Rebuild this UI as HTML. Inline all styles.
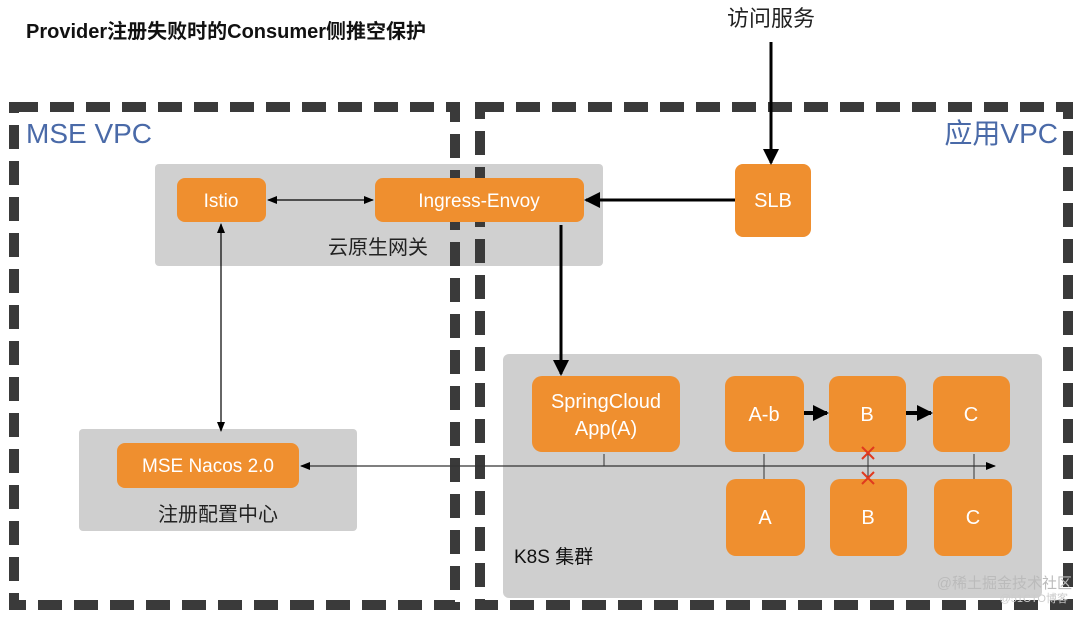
<!DOCTYPE html>
<html><head><meta charset="utf-8"><style>
body{margin:0;width:1080px;height:612px;background:#fff;overflow:hidden}
svg text{font-family:"Liberation Sans","Noto Sans CJK SC",sans-serif}
</style></head><body>
<svg width="1080" height="612" viewBox="0 0 1080 612">
<defs>
<marker id="ahb" markerWidth="16" markerHeight="16" refX="14" refY="8" orient="auto" markerUnits="userSpaceOnUse"><path d="M0,0L16,8L0,16z" fill="#000"/></marker>
<marker id="ahs" markerWidth="10" markerHeight="10" refX="9" refY="5" orient="auto-start-reverse" markerUnits="userSpaceOnUse"><path d="M0,1L10,5L0,9z" fill="#000"/></marker>
</defs>
<text x="26" y="38" font-size="20" font-weight="bold" fill="#111">Provider注册失败时的Consumer侧推空保护</text>
<text x="771" y="26" font-size="22" fill="#222" text-anchor="middle">访问服务</text>
<!-- gateway -->
<rect x="155" y="164" width="448" height="102" rx="4" fill="#d0d0d0"/>
<!-- dashed containers -->
<rect x="14" y="107" width="441" height="498" fill="none" stroke="#3a3a3a" stroke-width="10" stroke-dasharray="24 12"/>
<rect x="480" y="107" width="588" height="498" fill="none" stroke="#3a3a3a" stroke-width="10" stroke-dasharray="24 12"/>
<text x="26" y="143" font-size="28" fill="#4a6aa8">MSE VPC</text>
<text x="1058" y="143" font-size="28" fill="#4a6aa8" text-anchor="end">应用VPC</text>
<rect x="177" y="178" width="89" height="44" rx="8" fill="#ef8f2f"/>
<text x="221" y="207" font-size="19" fill="#fff" text-anchor="middle">Istio</text>
<rect x="375" y="178" width="209" height="44" rx="8" fill="#ef8f2f"/>
<text x="479" y="207" font-size="19" fill="#fff" text-anchor="middle">Ingress-Envoy</text>
<text x="378" y="254" font-size="20" fill="#222" text-anchor="middle">云原生网关</text>
<!-- SLB -->
<rect x="735" y="164" width="76" height="73" rx="8" fill="#ef8f2f"/>
<text x="773" y="207" font-size="20" fill="#fff" text-anchor="middle">SLB</text>
<!-- nacos -->
<rect x="79" y="429" width="278" height="102" rx="4" fill="#cfcfcf"/>
<rect x="117" y="443" width="182" height="45" rx="8" fill="#ef8f2f"/>
<text x="208" y="472" font-size="19" fill="#fff" text-anchor="middle">MSE Nacos 2.0</text>
<text x="218" y="521" font-size="20" fill="#222" text-anchor="middle">注册配置中心</text>
<!-- k8s -->
<rect x="503" y="354" width="539" height="244" rx="6" fill="#cfcfcf"/>
<text x="514" y="563" font-size="19" fill="#111">K8S 集群</text>
<rect x="532" y="376" width="148" height="76" rx="10" fill="#ef8f2f"/>
<text x="606" y="408" font-size="20" fill="#fff" text-anchor="middle">SpringCloud</text>
<text x="606" y="435" font-size="20" fill="#fff" text-anchor="middle">App(A)</text>
<rect x="725" y="376" width="79" height="76" rx="10" fill="#ef8f2f"/>
<text x="764" y="421" font-size="20" fill="#fff" text-anchor="middle">A-b</text>
<rect x="829" y="376" width="77" height="76" rx="10" fill="#ef8f2f"/>
<text x="867" y="421" font-size="20" fill="#fff" text-anchor="middle">B</text>
<rect x="933" y="376" width="77" height="76" rx="10" fill="#ef8f2f"/>
<text x="971" y="421" font-size="20" fill="#fff" text-anchor="middle">C</text>
<rect x="726" y="479" width="79" height="77" rx="10" fill="#ef8f2f"/>
<text x="765" y="524" font-size="20" fill="#fff" text-anchor="middle">A</text>
<rect x="830" y="479" width="77" height="77" rx="10" fill="#ef8f2f"/>
<text x="868" y="524" font-size="20" fill="#fff" text-anchor="middle">B</text>
<rect x="934" y="479" width="78" height="77" rx="10" fill="#ef8f2f"/>
<text x="973" y="524" font-size="20" fill="#fff" text-anchor="middle">C</text>
<!-- connectors -->
<line x1="771" y1="42" x2="771" y2="163" stroke="#000" stroke-width="3" marker-end="url(#ahb)"/>
<line x1="735" y1="200" x2="586" y2="200" stroke="#000" stroke-width="3" marker-end="url(#ahb)"/>
<line x1="561" y1="225" x2="561" y2="374" stroke="#000" stroke-width="3" marker-end="url(#ahb)"/>
<line x1="268" y1="200" x2="373" y2="200" stroke="#000" stroke-width="1.2" marker-start="url(#ahs)" marker-end="url(#ahs)"/>
<line x1="221" y1="224" x2="221" y2="431" stroke="#000" stroke-width="1.2" marker-start="url(#ahs)" marker-end="url(#ahs)"/>
<line x1="301" y1="466" x2="995" y2="466" stroke="#333" stroke-width="1.2" marker-start="url(#ahs)" marker-end="url(#ahs)"/>
<line x1="604" y1="454" x2="604" y2="466" stroke="#333" stroke-width="1"/>
<line x1="764" y1="454" x2="764" y2="479" stroke="#333" stroke-width="1"/>
<line x1="868" y1="454" x2="868" y2="479" stroke="#333" stroke-width="1"/>
<line x1="974" y1="454" x2="974" y2="479" stroke="#333" stroke-width="1"/>
<line x1="804" y1="413" x2="827" y2="413" stroke="#000" stroke-width="4" marker-end="url(#ahb)"/>
<line x1="906" y1="413" x2="931" y2="413" stroke="#000" stroke-width="4" marker-end="url(#ahb)"/>
<g stroke="#e03a1e" stroke-width="2">
<line x1="862" y1="447" x2="874" y2="459"/><line x1="874" y1="447" x2="862" y2="459"/>
<line x1="862" y1="472" x2="874" y2="484"/><line x1="874" y1="472" x2="862" y2="484"/>
</g>
<text x="1072" y="588" font-size="15" fill="#bbb" text-anchor="end">@稀土掘金技术社区</text>
<text x="1068" y="602" font-size="11" fill="#ccc" text-anchor="end">@51CTO博客</text>
</svg>
</body></html>
